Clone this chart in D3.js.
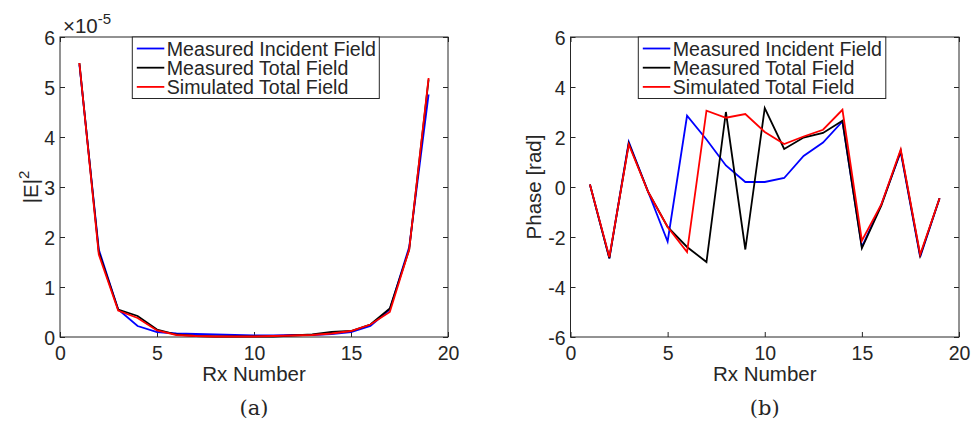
<!DOCTYPE html>
<html>
<head>
<meta charset="utf-8">
<script src="https://cdn.jsdelivr.net/npm/d3@7"></script>
<style>
  body { margin: 0; background: #fff; }
  svg text { font-family: "Liberation Sans", Arial, sans-serif; fill: #262626; }
</style>
</head>
<body>
<div id="chart"></div>
<script>
// receiver index
const rx = [1,2,3,4,5,6,7,8,9,10,11,12,13,14,15,16,17,18,19]

// |E|^2 (x 1e-5)
const magIncident = [5.45,1.75,0.55,0.22,0.10,0.07,0.06,0.05,0.04,0.03,0.03,0.04,0.04,0.06,0.10,0.22,0.55,1.80,4.85]
const magTotal    = [5.48,1.70,0.55,0.42,0.15,0.05,0.02,0.01,0.01,0.01,0.01,0.03,0.05,0.10,0.12,0.25,0.57,1.75,5.15]
const magSim      = [5.48,1.65,0.53,0.38,0.13,0.04,0.02,0.01,0.01,0.01,0.02,0.03,0.04,0.07,0.12,0.25,0.50,1.75,5.18]

// phase [rad]
const phIncident = [0.10,-2.85,1.80,-0.20,-2.18,2.85,1.90,0.86,0.20,0.20,0.36,1.24,1.78,2.62,-2.40,-0.70,1.40,-2.80,-0.45]
const phTotal    = [0.10,-2.85,1.75,-0.20,-1.60,-2.40,-3.00,3.00,-2.50,3.16,1.52,1.98,2.16,2.65,-2.45,-0.75,1.45,-2.75,-0.45]
const phSim      = [0.10,-2.80,1.70,-0.20,-1.60,-2.60,3.05,2.77,2.92,2.20,1.72,2.02,2.29,3.09,-2.15,-0.70,1.50,-2.70,-0.45]

const seriesNames = ["Measured Incident Field","Measured Total Field","Simulated Total Field"]
const seriesColors = ["#0000ff","#000000","#ff0000"]

const xTicks = [0,5,10,15,20]
const magTicks = [0,1,2,3,4,5,6]
const phTicks = [-6,-4,-2,0,2,4,6]

const width = 974, height = 435
const axisCol = "#262626"
const tickFs = 19.5, labFs = 20.5, legFs = 19.6
const fmt = d => String(d)   // plain hyphen minus, like the original

const svg = d3.select("#chart").append("svg")
    .attr("width", width)
    .attr("height", height)

function panel(opt) {
    const x = d3.scaleLinear().domain([0,20]).range([opt.left, opt.right])
    const y = d3.scaleLinear().domain(opt.ydom).range([opt.bottom, opt.top])
    const g = svg.append("g")

    // box
    g.append("rect")
        .attr("x", opt.left).attr("y", opt.top)
        .attr("width", opt.right - opt.left).attr("height", opt.bottom - opt.top)
        .attr("fill", "none").attr("stroke", axisCol).attr("stroke-width", 1)

    // axes, ticks inward, mirrored on top/right
    const tk = 5
    const ax = [
        [d3.axisBottom(x), opt.bottom, true],
        [d3.axisTop(x), opt.top, false]
    ]
    ax.forEach(([a, pos, lab]) => {
        a.tickValues(xTicks).tickFormat(fmt).tickSizeInner(-tk).tickSizeOuter(0)
        const gg = g.append("g").attr("transform", `translate(0,${pos})`).call(a)
        gg.attr("font-size", null).attr("font-family", null)
        gg.select(".domain").remove()
        gg.selectAll("line").attr("stroke", axisCol)
        if (lab) {
            gg.selectAll("text").attr("font-size", tickFs).attr("dy", null).attr("y", 22.5)
                .attr("fill", axisCol)
        } else gg.selectAll("text").remove()
    })
    const ay = [
        [d3.axisLeft(y), opt.left, true],
        [d3.axisRight(y), opt.right, false]
    ]
    ay.forEach(([a, pos, lab]) => {
        a.tickValues(opt.yticks).tickFormat(fmt).tickSizeInner(-tk).tickSizeOuter(0)
        const gg = g.append("g").attr("transform", `translate(${pos},0)`).call(a)
        gg.attr("font-size", null).attr("font-family", null)
        gg.select(".domain").remove()
        gg.selectAll("line").attr("stroke", axisCol)
        if (lab) {
            gg.selectAll("text").attr("font-size", tickFs).attr("x", -5).attr("dy", "0.36em")
                .attr("fill", axisCol)
        } else gg.selectAll("text").remove()
    })

    // lines
    const line = d3.line().x((d, i) => x(rx[i])).y(d => y(d))
    opt.series.forEach((s, k) => {
        g.append("path").datum(s)
            .attr("d", line)
            .attr("fill", "none")
            .attr("stroke", seriesColors[k])
            .attr("stroke-width", 1.8)
            .attr("stroke-linejoin", "miter")
    })

    // legend
    const lg = g.append("g")
    lg.append("rect")
        .attr("x", opt.legX).attr("y", opt.top)
        .attr("width", opt.legW).attr("height", 61.5)
        .attr("fill", "#fff").attr("stroke", axisCol).attr("stroke-width", 1)
    seriesNames.forEach((n, k) => {
        const yy = opt.top + 11.5 + k * 19.2
        lg.append("line")
            .attr("x1", opt.legX + 4.5).attr("x2", opt.legX + 32)
            .attr("y1", yy).attr("y2", yy)
            .attr("stroke", seriesColors[k]).attr("stroke-width", 1.8)
        lg.append("text")
            .attr("x", opt.legX + 34.5).attr("y", yy + 7)
            .attr("font-size", legFs)
            .text(n)
    })

    // axis labels
    g.append("text")
        .attr("x", (opt.left + opt.right) / 2).attr("y", opt.bottom + 44)
        .attr("text-anchor", "middle").attr("font-size", labFs)
        .text("Rx Number")
    g.append("text")
        .attr("transform", `translate(${opt.ylabX},${(opt.top + opt.bottom) / 2}) rotate(-90)`)
        .attr("text-anchor", "middle").attr("font-size", labFs)
        .html(opt.ylab)

    g.append("text")
        .attr("x", (opt.left + opt.right) / 2).attr("y", opt.bottom + 78)
        .attr("text-anchor", "middle").attr("font-size", 21)
        .style("font-family", "'DejaVu Serif', 'Liberation Serif', serif")
        .text(opt.caption)
    return g
}

const gA = panel({
    left: 60, right: 448, top: 37, bottom: 337,
    ydom: [0, 6], yticks: magTicks,
    series: [magIncident, magTotal, magSim],
    legX: 132.3, legW: 247,
    ylab: '|E|<tspan dy="-9" font-size="15">2</tspan>', ylabX: 38,
    caption: "(a)"
})
// exponent
gA.append("text")
    .attr("x", 63).attr("y", 33).attr("font-size", 20.5)
    .html('\u00d710<tspan dy="-9" font-size="15">-5</tspan>')

panel({
    left: 570.5, right: 959, top: 37, bottom: 337,
    ydom: [-6, 6], yticks: phTicks,
    series: [phIncident, phTotal, phSim],
    legX: 638.3, legW: 247.5,
    ylab: "Phase [rad]", ylabX: 541,
    caption: "(b)"
})
</script>
</body>
</html>
